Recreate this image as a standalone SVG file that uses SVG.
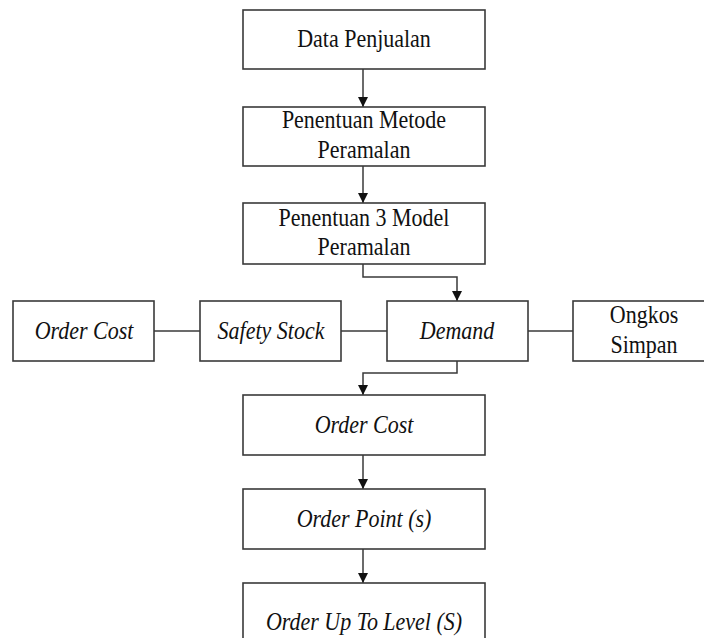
<svg xmlns="http://www.w3.org/2000/svg" width="704" height="638" viewBox="0 0 704 638">
<defs>
<marker id="ah" markerWidth="10" markerHeight="10" refX="10" refY="5" orient="auto" markerUnits="userSpaceOnUse">
<path d="M0,0 L10,5 L0,10 Z" fill="#111"/>
</marker>
<style>
.box{fill:#fff;stroke:#3a3a3a;stroke-width:1.6}
.t{font-family:"Liberation Serif","Times New Roman",serif;font-size:22px;fill:#111;text-anchor:middle}
.i{font-style:italic}
.c{fill:none;stroke:#3a3a3a;stroke-width:1.5}
</style>
</defs>
<rect width="704" height="638" fill="#fff"/>
<g id="connectors">
<path class="c" d="M363,69 V107" marker-end="url(#ah)"/>
<path class="c" d="M363,166 V203" marker-end="url(#ah)"/>
<path class="c" d="M363,264 V277 H457 V301" marker-end="url(#ah)"/>
<path class="c" d="M154,331 H200"/>
<path class="c" d="M341,331 H387"/>
<path class="c" d="M528,331 H573"/>
<path class="c" d="M457,361 V373 H363 V395" marker-end="url(#ah)"/>
<path class="c" d="M363,455 V489" marker-end="url(#ah)"/>
<path class="c" d="M363,549 V583" marker-end="url(#ah)"/>
</g>
<g id="data-penjualan">
<rect class="box" x="243" y="10" width="242" height="59"/>
<text class="t" transform="translate(364,47) scale(1,1.1)">Data Penjualan</text>
</g>
<g id="metode">
<rect class="box" x="243" y="107" width="242" height="59"/>
<text class="t" transform="translate(364,128) scale(1,1.1)">Penentuan Metode</text>
<text class="t" transform="translate(364,158) scale(1,1.1)">Peramalan</text>
</g>
<g id="model">
<rect class="box" x="243" y="203" width="242" height="61"/>
<text class="t" transform="translate(364,226) scale(1,1.1)">Penentuan 3 Model</text>
<text class="t" transform="translate(364,255) scale(1,1.1)">Peramalan</text>
</g>
<g id="order-cost-left">
<rect class="box" x="13" y="301" width="141" height="60"/>
<text class="t i" transform="translate(84,339) scale(1,1.1)">Order Cost</text>
</g>
<g id="safety-stock">
<rect class="box" x="200" y="301" width="141" height="60"/>
<text class="t i" transform="translate(271,339) scale(1,1.1)">Safety Stock</text>
</g>
<g id="demand">
<rect class="box" x="387" y="301" width="141" height="60"/>
<text class="t i" transform="translate(457,339) scale(1,1.1)">Demand</text>
</g>
<g id="ongkos-simpan">
<rect class="box" x="573" y="301" width="142" height="60"/>
<text class="t" transform="translate(644,323) scale(1,1.1)">Ongkos</text>
<text class="t" transform="translate(644,353) scale(1,1.1)">Simpan</text>
</g>
<g id="order-cost">
<rect class="box" x="243" y="395" width="242" height="60"/>
<text class="t i" transform="translate(364,433) scale(1,1.1)">Order Cost</text>
</g>
<g id="order-point">
<rect class="box" x="243" y="489" width="242" height="60"/>
<text class="t i" transform="translate(364,527) scale(1,1.1)">Order Point (s)</text>
</g>
<g id="order-up-to-level">
<rect class="box" x="243" y="583" width="242" height="70"/>
<text class="t i" transform="translate(364,630) scale(1,1.1)">Order Up To Level (S)</text>
</g>
</svg>
